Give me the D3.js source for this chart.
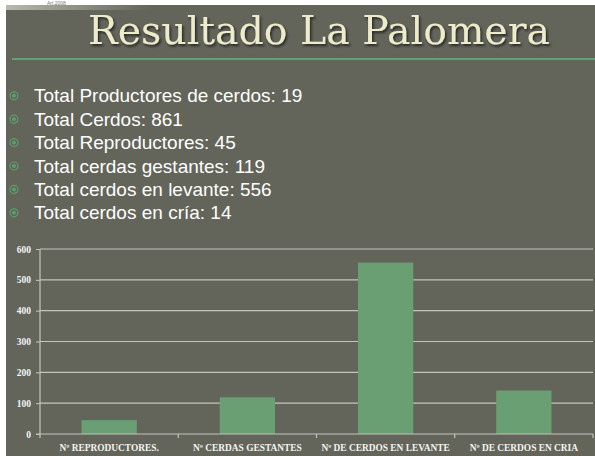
<!DOCTYPE html>
<html>
<head>
<meta charset="utf-8">
<script src="https://cdn.jsdelivr.net/npm/d3@7"></script>
<style>
  html, body { margin: 0; padding: 0; background: #fff; }
  svg { display: block; }
</style>
</head>
<body>
<svg id="chart" width="595" height="456"></svg>
<script>
var width = 595, height = 456;

// data
var titleText = "Resultado La Palomera";
var bulletItems = [
  "Total Productores de cerdos: 19",
  "Total Cerdos: 861",
  "Total Reproductores: 45",
  "Total cerdas gestantes: 119",
  "Total cerdos en levante: 556",
  "Total cerdos en cría: 14"
];
var categories = ["Nº REPRODUCTORES.", "Nº CERDAS GESTANTES", "Nº DE CERDOS EN LEVANTE", "Nº  DE CERDOS EN CRIA"];
var values = [45, 119, 556, 141];
var yTicks = [0, 100, 200, 300, 400, 500, 600];

function draw()
{
    var svg = d3.select("#chart");
    var defs = svg.append("defs");

    // slide background + white edge strips
    svg.append("rect").attr("x", 0).attr("y", 0).attr("width", width).attr("height", height).attr("fill", "#fff");
    svg.append("rect").attr("x", 6).attr("y", 5).attr("width", width - 6).attr("height", height - 5).attr("fill", "#63645a");

    var grad = defs.append("linearGradient").attr("id", "fade");
    grad.append("stop").attr("offset", "0%").attr("stop-color", "#b9b9ae");
    grad.append("stop").attr("offset", "100%").attr("stop-color", "#63645a");
    svg.append("rect").attr("x", 6).attr("y", 5).attr("width", 145).attr("height", 5).attr("fill", "url(#fade)");
    svg.append("text").attr("x", 47).attr("y", 5).attr("font-size", 5).attr("fill", "#777")
      .attr("font-family", "Liberation Sans").text("Art 2008");

    // title with shadow
    var f = defs.append("filter").attr("id", "shadow").attr("x", "-5%").attr("y", "-20%").attr("width", "110%").attr("height", "140%");
    f.append("feDropShadow").attr("dx", 1.5).attr("dy", 2).attr("stdDeviation", 1)
      .attr("flood-color", "#1e1e18").attr("flood-opacity", 0.8);
    svg.append("text").attr("x", 88).attr("y", 44)
      .attr("font-family", "DejaVu Serif").attr("font-size", 40)
      .attr("fill", "#ecebcb").attr("filter", "url(#shadow)")
      .attr("textLength", 462).attr("lengthAdjust", "spacingAndGlyphs")
      .text(titleText);

    svg.append("line").attr("x1", 12).attr("x2", width).attr("y1", 59).attr("y2", 59)
      .attr("stroke", "#63a073").attr("stroke-width", 2);

    // bullet list
    var by = d3.scaleLinear().domain([0, 5]).range([102.3, 219.3]);
    var items = svg.append("g").selectAll("g").data(bulletItems).enter().append("g")
      .attr("transform", function(d, i) { return "translate(0," + by(i) + ")"; });
    items.append("circle").attr("cx", 14).attr("cy", -6.5).attr("r", 4)
      .attr("fill", "none").attr("stroke", "#5b9f68").attr("stroke-width", 1.2);
    items.append("circle").attr("cx", 14).attr("cy", -6.5).attr("r", 2)
      .attr("fill", "#5b9f68");
    items.append("text").attr("x", 34).attr("y", 0)
      .attr("font-family", "Liberation Sans").attr("font-size", 19)
      .attr("fill", "#ffffff").text(function(d) { return d; });

    // bar chart
    var x = d3.scaleBand().domain(categories).range([40, 593]).paddingInner(0.6).paddingOuter(0.3);
    var y = d3.scaleLinear().domain([0, 600]).range([434, 249]);

    svg.append("g").selectAll("line").data(yTicks.slice(1)).enter().append("line")
      .attr("x1", 40).attr("x2", 593)
      .attr("y1", function(d) { return y(d); }).attr("y2", function(d) { return y(d); })
      .attr("stroke", "#c4c4bc").attr("stroke-width", 1.2);

    svg.append("g").selectAll("rect").data(values).enter().append("rect")
      .attr("x", function(d, i) { return x(categories[i]); })
      .attr("y", function(d) { return y(d); })
      .attr("width", x.bandwidth())
      .attr("height", function(d) { return y(0) - y(d); })
      .attr("fill", "#6a9f73");

    // y axis
    var yAxis = svg.append("g").attr("transform", "translate(40,0)")
      .call(d3.axisLeft(y).tickValues(yTicks).tickSize(4).tickPadding(5));
    yAxis.select(".domain").attr("stroke", "#c4c4bc").attr("stroke-width", 1.2).attr("d", "M0," + y(600) + "V" + y(0));
    yAxis.selectAll(".tick line").attr("stroke", "#c4c4bc");
    yAxis.selectAll("text").attr("font-family", "Liberation Serif").attr("font-weight", "bold")
      .attr("font-size", 9.5).attr("fill", "#f2f4f8");

    // x axis line + boundary ticks
    var bounds = d3.range(5).map(function(i) { return 40 + i * x.step(); });
    svg.append("line").attr("x1", 36).attr("x2", 593).attr("y1", y(0)).attr("y2", y(0))
      .attr("stroke", "#c4c4bc").attr("stroke-width", 1.2);
    svg.append("g").selectAll("line").data(bounds).enter().append("line")
      .attr("x1", function(d) { return d; }).attr("x2", function(d) { return d; })
      .attr("y1", y(0)).attr("y2", y(0) + 4)
      .attr("stroke", "#c4c4bc").attr("stroke-width", 1.2);

    svg.append("g").selectAll("text").data(categories).enter().append("text")
      .attr("x", function(d) { return x(d) + x.bandwidth() / 2; })
      .attr("y", 450.5)
      .attr("text-anchor", "middle")
      .attr("font-family", "Liberation Serif").attr("font-weight", "bold")
      .attr("font-size", 9.4).attr("fill", "#f4f4f0")
      .text(function(d) { return d; });
}

draw();
</script>
</body>
</html>
